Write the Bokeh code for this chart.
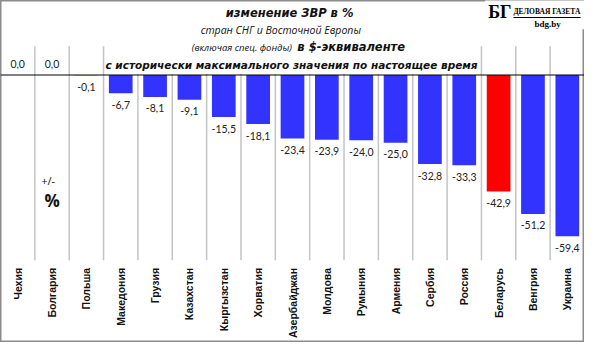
import math
from bokeh.plotting import figure
from bokeh.models import Range1d, ColumnDataSource, Label, BoxAnnotation, Span
from bokeh.core.properties import value
from bokeh.embed import file_html
from bokeh.resources import INLINE

# ---- data ----
countries = ["Чехия", "Болгария", "Польша", "Македония", "Грузия", "Казахстан",
             "Кыргызстан", "Хорватия", "Азербайджан", "Молдова", "Румыния",
             "Армения", "Сербия", "Россия", "Беларусь", "Венгрия", "Украина"]
changes = [0.0, 0.0, -0.1, -6.7, -8.1, -9.1, -15.5, -18.1, -23.4, -23.9, -24.0,
           -25.0, -32.8, -33.3, -42.9, -51.2, -59.4]
highlight = "Беларусь"

title_1 = "изменение ЗВР в %"
title_2 = "стран СНГ и Восточной Европы"
title_3a = "(включая  спец. фонды)"
title_3b = "в $-эквиваленте"
title_4 = "с исторически максимального значения по настоящее время"
unit_1 = "+/-"
unit_2 = "%"

# ---- layout helpers (reference pixel -> data coords) ----
W, H = 584, 342
REF_W = 600.0
N = len(countries)
ZERO_PX = 78.0
PX_PER_UNIT = 2.84


def rx(px):
    return px / REF_W * N


def ry(py):
    return (ZERO_PX - py) / PX_PER_UNIT


p = figure(width=W, height=H, output_backend="svg", toolbar_location=None,
           x_range=Range1d(0, N), y_range=Range1d(ry(358), ry(0)),
           x_axis_type=None, y_axis_type=None, min_border=0)
p.outline_line_color = "#8c8c8c"
p.outline_line_width = 2
p.background_fill_color = "white"
p.border_fill_color = "white"

xs = [i + 0.5 for i in range(N)]
colors = ["#ff0000" if c == highlight else "#3333ff" for c in countries]
labels = [f"{v:.1f}".replace(".", ",") for v in changes]
yoff = [-11 if v >= 0 else 11.5 for v in changes]

src = ColumnDataSource(dict(x=xs, v=changes, c=colors, lbl=labels, yoff=yoff,
                            name=countries))

# vertical separators between categories
bounds = list(range(1, N))
p.segment(x0=bounds, x1=bounds, y0=[ry(272)] * len(bounds), y1=[ry(48)] * len(bounds),
          line_color="#c4c4c4", line_width=1.5)

p.vbar(x="x", width=0.69, top=0, bottom="v", fill_color="c", line_color=None, source=src)

p.text(x="x", y="v", text="lbl", source=src, y_offset="yoff", text_align="center",
       text_baseline="middle", text_font=value("Lato"), text_font_size="10.5px",
       text_color="#222222")

p.text(x="x", y=ry(280), text="name", source=src, angle=math.pi / 2,
       text_align="right", text_baseline="middle", text_font=value("Liberation Sans"),
       text_font_style="bold", text_font_size="10.5px", text_color="#111111")

# white box behind title
p.add_layout(BoxAnnotation(left=rx(108), right=rx(490), bottom=ry(77), top=ry(40),
                           fill_color="white", fill_alpha=1.0, line_color=None))

p.add_layout(Span(location=0, dimension="width", line_color="#000000", line_width=1,
                  level="overlay"))


def lab(text, x, y, font, size, style="normal", align="center", color="#111111"):
    p.add_layout(Label(x=rx(x), y=ry(y), text=text, text_align=align,
                       text_baseline="middle", text_font=font,
                       text_font_size=size, text_font_style=style,
                       text_color=color))


lab(title_1, 297, 13, "DejaVu Sans", "11.5px", "bold italic")
lab(title_2, 288, 31, "Open Sans", "10.5px", "italic")
lab(title_3a, 302, 49, "Open Sans", "9.5px", "italic", align="right")
lab(title_3b, 305, 49, "DejaVu Sans", "11.5px", "bold italic", align="left")
lab(title_4, 299, 67, "DejaVu Sans", "10.5px", "bold italic")

lab(unit_1, 49, 188, "Open Sans", "11px")
lab(unit_2, 53, 209, "Open Sans", "17px", "bold")

# logo
p.add_layout(BoxAnnotation(left=rx(498), right=rx(600), bottom=ry(30), top=ry(-2),
                           fill_color="white", fill_alpha=1.0, line_color=None))
lab("БГ", 501, 12, "Liberation Serif", "18px", "bold", align="left", color="#000000")
lab("ДЕЛОВАЯ ГАЗЕТА", 527, 12, "Liberation Serif", "7.5px", "bold", align="left",
    color="#000000")
p.add_layout(BoxAnnotation(left=rx(527), right=rx(596), bottom=ry(18.2), top=ry(17.2),
                           fill_color="#000000", fill_alpha=1.0, line_color=None))
lab("bdg.by", 562, 25, "Liberation Serif", "9px", "bold", color="#000000")

open("out.html", "w").write(file_html(p, INLINE))
